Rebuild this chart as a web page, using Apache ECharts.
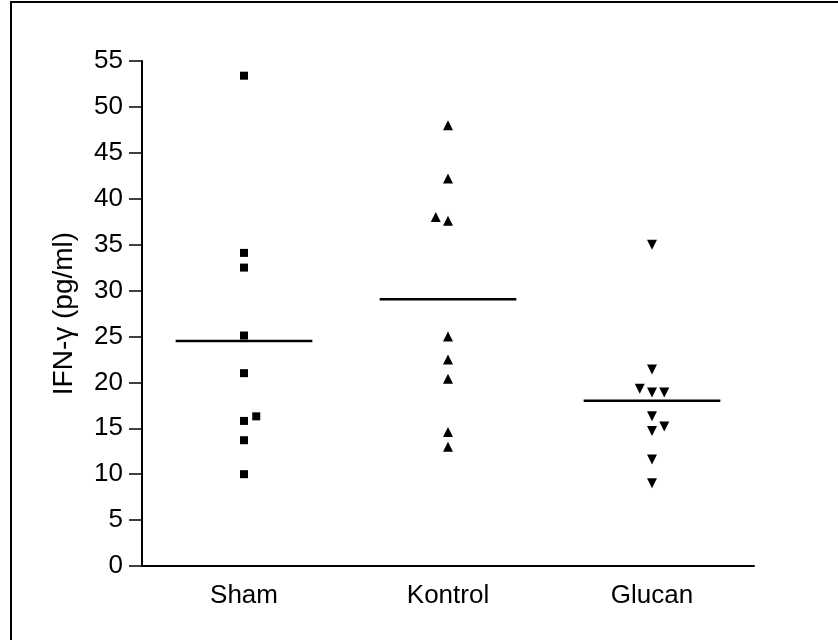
<!DOCTYPE html>
<html>
<head>
<meta charset="utf-8">
<script src="https://cdn.jsdelivr.net/npm/echarts@6/dist/echarts.min.js"></script>
<style>html,body{margin:0;padding:0;background:#fff;}#c{width:838px;height:640px;}</style>
</head>
<body>
<div id="c"></div>
<script>
const categories = ['Sham', 'Kontrol', 'Glucan'];
const yTicks = [0, 5, 10, 15, 20, 25, 30, 35, 40, 45, 50, 55];
// values per group
const shamValues = [53.4, 34.1, 32.5, 25.1, 21.0, 15.8, 16.3, 13.7, 10.0];
const shamJitter = [0, 0, 0, 0, 0, 0, 0.06, 0, 0];
const kontrolValues = [48.0, 42.2, 38.0, 37.6, 25.0, 22.5, 20.4, 14.6, 13.0];
const kontrolJitter = [0, 0, -0.06, 0, 0, 0, 0, 0, 0];
const glucanValues = [35.0, 21.4, 19.3, 18.9, 18.9, 16.3, 15.2, 14.7, 11.6, 9.0];
const glucanJitter = [0, 0, -0.06, 0, 0.06, 0, 0.06, 0, 0, 0];
const means = [24.5, 29.05, 18.0];

const groups = [
  {v: shamValues, j: shamJitter, symbol: 'rect', size: 8, rot: 0},
  {v: kontrolValues, j: kontrolJitter, symbol: 'triangle', size: 10, rot: 0},
  {v: glucanValues, j: glucanJitter, symbol: 'triangle', size: 10, rot: 180}
];

const series = [];
groups.forEach((g, i) => {
  series.push({
    type: 'scatter', xAxisIndex: 1, yAxisIndex: 0,
    symbol: g.symbol, symbolSize: g.size, symbolRotate: g.rot,
    itemStyle: {color: '#000', opacity: 1},
    data: g.v.map((y, k) => [i + 0.5 + g.j[k], y]),
    z: 5
  });
  series.push({
    type: 'line', xAxisIndex: 1, yAxisIndex: 0,
    symbol: 'none', lineStyle: {color: '#000', width: 2.5},
    data: [[i + 0.5 - 0.335, means[i]], [i + 0.5 + 0.335, means[i]]],
    z: 4
  });
});

const font = 'Liberation Sans';
const chart = echarts.init(document.getElementById('c'), null, {renderer: 'canvas'});
chart.setOption({
  animation: false,
  backgroundColor: '#fff',
  grid: {left: 142, right: 84, top: 61, bottom: 74},
  xAxis: [{
    type: 'category', data: categories, boundaryGap: true,
    axisLine: {lineStyle: {color: '#000', width: 2}},
    axisTick: {alignWithLabel: true, length: 13, lineStyle: {color: '#000', width: 1.5}},
    axisLabel: {color: '#000', fontFamily: font, fontSize: 26, margin: 17},
    splitLine: {show: false}
  }, {
    type: 'value', min: 0, max: 3, show: false, splitLine: {show: false}
  }],
  yAxis: [{
    type: 'value', min: 0, max: 55, interval: 5,
    name: 'IFN-γ (pg/ml)', nameLocation: 'middle', nameGap: 64,
    nameTextStyle: {color: '#000', fontFamily: font, fontSize: 28},
    axisLine: {show: true, lineStyle: {color: '#000', width: 2}},
    axisTick: {show: true, length: 13, lineStyle: {color: '#000', width: 1.5}},
    axisLabel: {color: '#000', fontFamily: font, fontSize: 26, margin: 19,
      formatter: v => yTicks.includes(v) ? String(v) : ''},
    splitLine: {show: false}
  }],
  graphic: [{
    type: 'polyline',
    shape: {points: [[11, 640], [11, 2], [838, 2]]},
    style: {stroke: '#000', lineWidth: 2, fill: null},
    silent: true
  }],
  series: series
});
</script>
</body>
</html>
